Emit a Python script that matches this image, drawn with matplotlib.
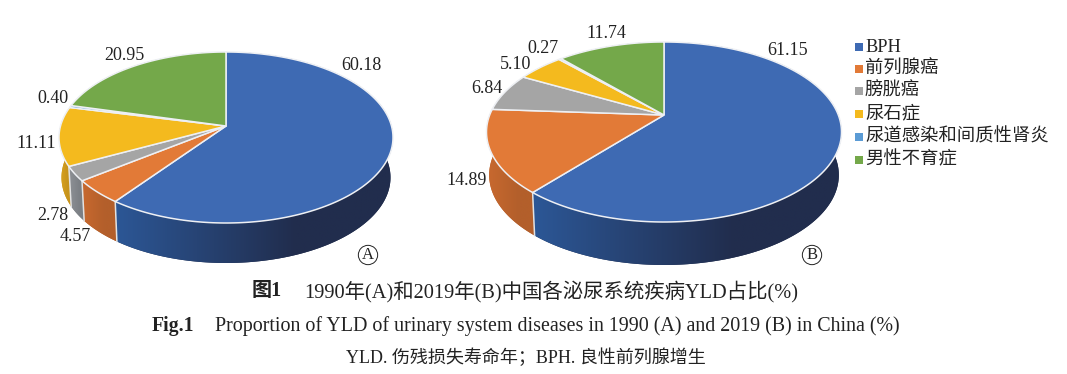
import numpy as np
import matplotlib
matplotlib.use("Agg")
from matplotlib import pyplot as plt
from matplotlib.colors import to_rgb

SERIF = ["Liberation Serif", "Noto Sans CJK SC"]
plt.rcParams["font.family"] = SERIF

categories = ["BPH", "前列腺癌", "膀胱癌", "尿石症", "尿道感染和间质性肾炎", "男性不育症"]
values_1990 = [60.18, 4.57, 2.78, 11.11, 0.40, 20.95]
values_2019 = [61.15, 14.89, 6.84, 5.10, 0.27, 11.74]

colors = ["#3E6AB3", "#E27A37", "#A5A5A5", "#F4BA1E", "#5B9BD5", "#74A84A"]
wall_left = ["#2C5796", "#C8692F", "#8E9196", "#DCA41F", "#4A86BE", "#5F8C3C"]
wall_right = ["#212D4D", "#B35F2B", "#7C8085", "#C7941C", "#3E73A5", "#527A33"]


def project(angle, cx, cy, rx, up, down):
    """Clockwise angle from 12 o'clock to picture position, with a slight perspective."""
    u, v = np.sin(angle), np.cos(angle)
    c = (down - up) / (down + up)
    a = up * (1 + c)
    d = rx * np.sqrt(1 - c ** 2)
    w = 1 + c * v
    return cx + d * u / w, cy - a * v / w


def draw_pie(ax, values, cx, cy, rx, up, down, depth):
    edges = 2 * np.pi * np.cumsum([0] + values) / sum(values)
    geom = (cx, cy, rx, up, down)

    # side wall first, the top face covers whatever lies behind it
    for i in range(len(values)):
        t = np.linspace(edges[i], edges[i + 1], 200)
        x, y = project(t, *geom)
        xb = cx + (x - cx) * 0.985
        yb = y + depth
        poly_x = np.r_[x, xb[::-1]]
        poly_y = np.r_[y, yb[::-1]]
        patch = ax.fill(poly_x, poly_y, color=wall_right[i], lw=0, zorder=2)[0]
        x0, x1 = poly_x.min(), poly_x.max()
        y0, y1 = poly_y.min(), poly_y.max()
        ramp = np.clip(np.linspace(0, 1, 256) / 0.65, 0, 1)
        left, right = np.array(to_rgb(wall_left[i])), np.array(to_rgb(wall_right[i]))
        img = left[None, None, :] + (right - left)[None, None, :] * ramp[None, :, None]
        im = ax.imshow(img, extent=(x0, x1, y1, y0), aspect="auto", zorder=2.1)
        im.set_clip_path(patch)

    for edge in edges:
        x, y = project(edge, *geom)
        if np.cos(edge) < -0.2:
            ax.plot([x, cx + (x - cx) * 0.985], [y, y + depth], color="#E2E2E2", lw=1.1, zorder=2.5)

    # top face
    for i in range(len(values)):
        t = np.linspace(edges[i], edges[i + 1], 200)
        x, y = project(t, *geom)
        ax.fill(np.r_[cx, x], np.r_[cy, y], facecolor=colors[i], edgecolor="#EEF0F4", lw=1.1, zorder=3)


fig = plt.figure(figsize=(10.67, 3.74), dpi=100, facecolor="white")
ax = fig.add_axes([0, 0, 1, 1])
ax.axis("off")

draw_pie(ax, values_1990, 226, 126, 167, 74, 97, 40)
draw_pie(ax, values_2019, 664, 115, 177.5, 73, 107, 43)

ax.set_xlim(0, 1067)
ax.set_ylim(374, 0)

labels_1990 = [(361, 65), (75, 236), (53, 215), (36, 143), (53, 98), (124, 55)]
labels_2019 = [(788, 50), (467, 180), (487, 88), (516, 64), (543, 48), (606, 33)]
for vals, spots in ((values_1990, labels_1990), (values_2019, labels_2019)):
    for val, (x, y) in zip(vals, spots):
        ax.text(x, y, f"{val:.2f}", fontsize=13, color="#222222", ha="center", va="center")

for name, x, y in (("A", 368, 255), ("B", 812, 255)):
    ax.text(x, y, name, fontsize=12, color="#222222", ha="center", va="center",
            bbox=dict(boxstyle="circle,pad=0.1", fc="white", ec="#222222", lw=0.7), zorder=5)

# legend
legend_y = [47, 69, 91, 114, 137, 160]
for name, col, y in zip(categories, colors, legend_y):
    ax.scatter([859], [y], marker="s", s=26, color=col, lw=0, zorder=4)
    ax.text(865, y, name, fontsize=13.2, color="#222222", ha="left", va="center")

# caption
ax.text(252, 291, "图1", fontsize=14.5, fontweight="bold", color="#222222", ha="left", va="center")
ax.text(304, 291, "1990年(A)和2019年(B)中国各泌尿系统疾病YLD占比(%)", fontsize=14.7, color="#222222", ha="left", va="center")
ax.text(152, 326, "Fig.1", fontsize=14.2, fontweight="bold", color="#222222", ha="left", va="center")
ax.text(215, 326, "Proportion of YLD of urinary system diseases in 1990 (A) and 2019 (B) in China (%)", fontsize=14.4, color="#222222", ha="left", va="center")
ax.text(526, 358, "YLD. 伤残损失寿命年；BPH. 良性前列腺增生", fontsize=13, color="#222222", ha="center", va="center")

fig.savefig("out.png", dpi=100)
